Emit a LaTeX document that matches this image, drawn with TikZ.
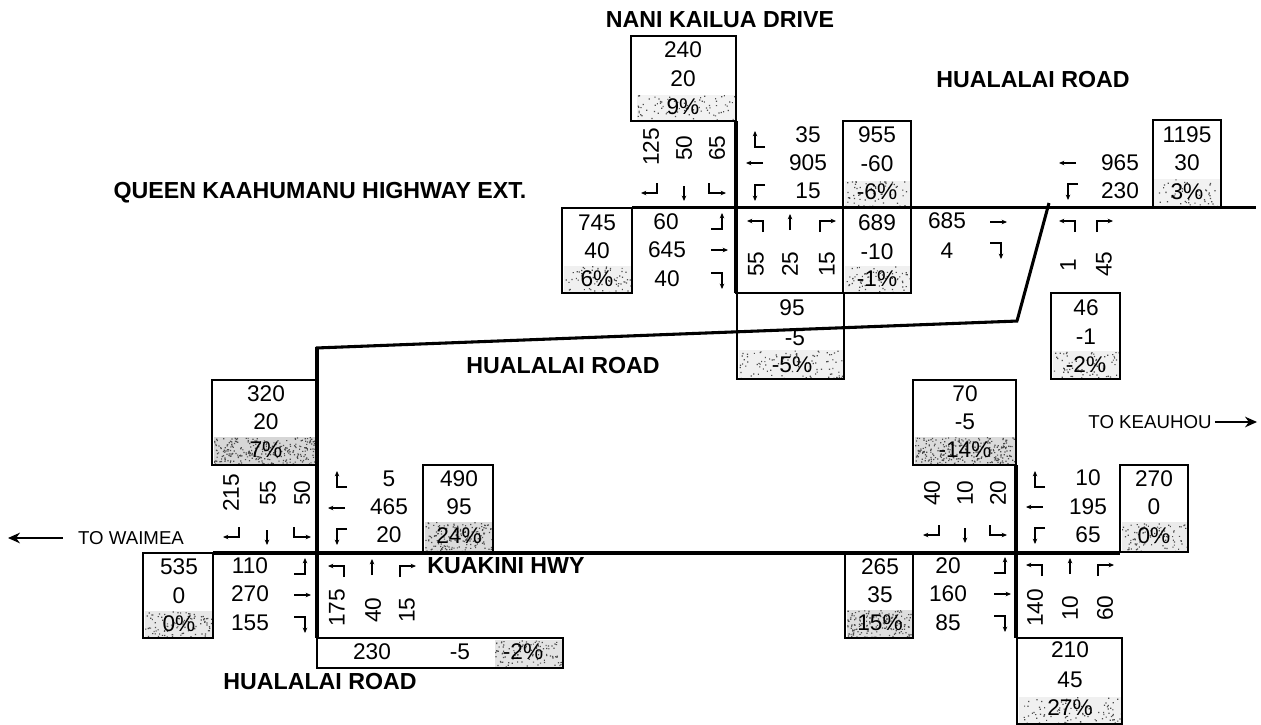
\documentclass[tikz,border=0pt]{standalone}
\usepackage{fontspec}
\setmainfont{Liberation Sans}
\usetikzlibrary{arrows.meta}
\tikzset{
  x=0.75pt,y=-0.75pt,
  val/.style={inner sep=0pt,font=\fontsize{17}{19}\selectfont},
  rval/.style={val,rotate=90},
  lab/.style={inner sep=0pt,font=\fontsize{17.4}{20}\selectfont\bfseries},
  small/.style={inner sep=0pt,font=\fontsize{14}{16}\selectfont},
  cell/.style={draw=black,line width=1.2pt},
  road/.style={draw=black,line width=2.3pt},
  move/.style={draw=black,line width=0.8pt,-{Stealth[length=4pt,width=3.4pt]}},
  long/.style={draw=black,line width=1.1pt,-{Stealth[length=9pt,width=8pt]}},
}
\newcommand{\nv}[3]{\node[val] (v#1-#2) at (#1,#2) {#3};}
\newcommand{\rv}[3]{\node[rval] (r#1-#2) at (#1,#2) {#3};}
\newcommand{\stip}[6]{%
  \fill[black!#5] (#1,#2) rectangle (#3,#4);
  \fill[black!70] \foreach \i in {1,...,#6} {({#1+rnd*(#3-#1)},{#2+rnd*(#4-#2)}) rectangle +(1.2,1.2)};
}
\newcommand{\bx}[4]{\draw[cell] (#1,#2) rectangle (#3,#4);}
\newcommand{\SL}[2]{\draw[move,shift={(#1,#2)}] (7,-7)--(7,3)--(-9,3);}
\newcommand{\ST}[2]{\draw[move,shift={(#1,#2)}] (0,-7)--(0,8);}
\newcommand{\SR}[2]{\draw[move,shift={(#1,#2)}] (-8,-7)--(-8,3)--(9,3);}
\newcommand{\WU}[2]{\draw[move,shift={(#1,#2)}] (7,7)--(-3,7)--(-3,-9);}
\newcommand{\WT}[2]{\draw[move,shift={(#1,#2)}] (8,0)--(-9,0);}
\newcommand{\WD}[2]{\draw[move,shift={(#1,#2)}] (7,-7)--(-3,-7)--(-3,9);}
\newcommand{\NL}[2]{\draw[move,shift={(#1,#2)}] (7,8)--(7,-3)--(-9,-3);}
\newcommand{\NT}[2]{\draw[move,shift={(#1,#2)}] (0,7)--(0,-9);}
\newcommand{\NR}[2]{\draw[move,shift={(#1,#2)}] (-7,8)--(-7,-3)--(9,-3);}
\newcommand{\EU}[2]{\draw[move,shift={(#1,#2)}] (-8,7)--(3,7)--(3,-9);}
\newcommand{\ET}[2]{\draw[move,shift={(#1,#2)}] (-8,0)--(9,0);}
\newcommand{\ED}[2]{\draw[move,shift={(#1,#2)}] (-8,-7)--(3,-7)--(3,9);}
\begin{document}
\begin{tikzpicture}
\pgfmathsetseed{11}
\useasboundingbox (0,0) rectangle (1261,725);
% stippled bands
\stip{637}{95}{735}{120}{5}{80}
\stip{845}{181}{910}{206}{6}{60}
\stip{564}{266}{631}{292}{6}{70}
\stip{845}{266}{910}{292}{6}{70}
\stip{739}{350}{843}{378}{6}{100}
\stip{1154}{179}{1220}{206}{5}{50}
\stip{1053}{351}{1119}{378}{6}{70}
\stip{214}{437}{316}{464}{16}{280}
\stip{425}{522}{492}{551}{14}{160}
\stip{145}{611}{212}{637}{9}{100}
\stip{495}{640}{562}{667}{11}{100}
\stip{915}{437}{1015}{464}{14}{260}
\stip{847}{610}{912}{637}{13}{160}
\stip{1122}{522}{1187}{551}{8}{90}
\stip{1019}{697}{1121}{723}{6}{90}
% boxes
\bx{631}{36}{736}{121}
\bx{843}{121}{911}{207}
\bx{562}{208}{632}{293}
\bx{736}{208}{843}{293}
\bx{843}{207}{911}{293}
\bx{737}{293}{844}{379}
\bx{1153}{120}{1221}{207}
\bx{1051}{293}{1120}{379}
\bx{212}{380}{317}{465}
\bx{423}{465}{493}{552}
\bx{143}{553}{213}{638}
\bx{317}{638}{563}{668}
\bx{913}{380}{1016}{465}
\bx{1120}{465}{1188}{552}
\bx{845}{552}{913}{638}
\bx{1017}{638}{1122}{724}
% roads
\draw[road] (632,207.5)--(1256,207.5);
\draw[road] (736,121)--(736,293);
\draw[road] (1049,203)--(1017,321);
\draw[road] (1018,321)--(316,348);
\draw[road] (317,347)--(317,638);
\draw[road] (213,553)--(1120,553);
\draw[road] (1016,465)--(1016,638);
% labels
\node[lab] (nani) at (720,20) {NANI KAILUA DRIVE};
\node[lab] (hr1) at (1033,80) {HUALALAI ROAD};
\node[lab] (qk) at (320,193) {QUEEN KAAHUMANU HIGHWAY EXT.};
\node[lab] (hr2) at (563,366) {HUALALAI ROAD};
\node[lab] (kh) at (506,566) {KUAKINI HWY};
\node[lab] (hr3) at (320,682) {HUALALAI ROAD};
\node[small] (wm) at (131,538) {TO WAIMEA};
\node[small] (ke) at (1150,422) {TO KEAUHOU};
\coordinate (wmend) at (8,538);
\coordinate (keend) at (1257,422);
\draw[long] (wm.west)++(-15,0) -- (wmend);
\draw[long] (ke.east)++(3,0) -- (keend);
% top intersection
\nv{683}{50}{240}\nv{683}{79}{20}\nv{683}{107}{9\%}
\rv{651}{147}{125}\rv{684}{148}{50}\rv{717}{148}{65}
\SL{650}{190}\ST{684}{193}\SR{717}{190}
\WU{758}{140}\WT{755}{163}\WD{758}{192}
\nv{808}{135}{35}\nv{808}{163}{905}\nv{808}{191}{15}
\nv{877}{135}{955}\nv{877}{164}{-60}\nv{877}{192}{-6\%}
\nv{597}{223}{745}\nv{597}{251}{40}\nv{597}{279}{6\%}
\nv{666}{222}{60}\nv{667}{250}{645}\nv{667}{279}{40}
\EU{719}{222}\ET{719}{250}\ED{719}{280}
\NL{756}{224}\NT{790}{223}\NR{827}{224}
\rv{756}{264}{55}\rv{790}{264}{25}\rv{827}{264}{15}
\nv{877}{223}{689}\nv{877}{252}{-10}\nv{877}{279}{-1\%}
\nv{792}{308}{95}\nv{795}{338}{-5}\nv{792}{365}{-5\%}
% east of top
\nv{947}{221}{685}\nv{947}{251}{4}
\ET{998}{222}\ED{998}{250}
\WT{1068}{163}\WD{1071}{191}
\nv{1120}{163}{965}\nv{1120}{191}{230}
\nv{1187}{135}{1195}\nv{1187}{163}{30}\nv{1187}{192}{3\%}
\NL{1068}{224}\NR{1104}{224}
\rv{1068}{265}{1}\rv{1104}{264}{45}
\nv{1086}{308}{46}\nv{1086}{337}{-1}\nv{1086}{365}{-2\%}
% bottom-left intersection
\nv{266}{394}{320}\nv{266}{422}{20}\nv{266}{450}{7\%}
\rv{231}{493}{215}\rv{268}{493}{55}\rv{302}{493}{50}
\SL{232}{534}\ST{267}{537}\SR{302}{534}
\WU{340}{480}\WT{337}{508}\WD{340}{536}
\nv{389}{479}{5}\nv{389}{507}{465}\nv{389}{535}{20}
\nv{459}{479}{490}\nv{459}{507}{95}\nv{459}{536}{24\%}
\nv{179}{567}{535}\nv{179}{596}{0}\nv{179}{624}{0\%}
\nv{250}{566}{110}\nv{250}{594}{270}\nv{250}{623}{155}
\EU{302}{567}\ET{302}{595}\ED{302}{624}
\NL{337}{569}\NT{372}{568}\NR{407}{569}
\rv{337}{608}{175}\rv{373}{610}{40}\rv{407}{610}{15}
\nv{372}{652}{230}\nv{460}{652}{-5}\nv{523}{652}{-2\%}
% bottom-right intersection
\nv{965}{394}{70}\nv{965}{422}{-5}\nv{965}{450}{-14\%}
\rv{932}{493}{40}\rv{965}{493}{10}\rv{998}{493}{20}
\SL{932}{532}\ST{965}{535}\SR{998}{532}
\WU{1038}{480}\WT{1035}{507}\WD{1038}{535}
\nv{1088}{478}{10}\nv{1088}{507}{195}\nv{1088}{535}{65}
\nv{1154}{479}{270}\nv{1154}{507}{0}\nv{1154}{536}{0\%}
\nv{880}{567}{265}\nv{880}{595}{35}\nv{880}{623}{15\%}
\nv{948}{566}{20}\nv{948}{594}{160}\nv{948}{623}{85}
\EU{1002}{566}\ET{1002}{594}\ED{1002}{623}
\NL{1035}{568}\NT{1070}{567}\NR{1105}{568}
\rv{1035}{608}{140}\rv{1070}{608}{10}\rv{1105}{608}{60}
\nv{1070}{650}{210}\nv{1070}{680}{45}\nv{1070}{708}{27\%}
\end{tikzpicture}
\end{document}
